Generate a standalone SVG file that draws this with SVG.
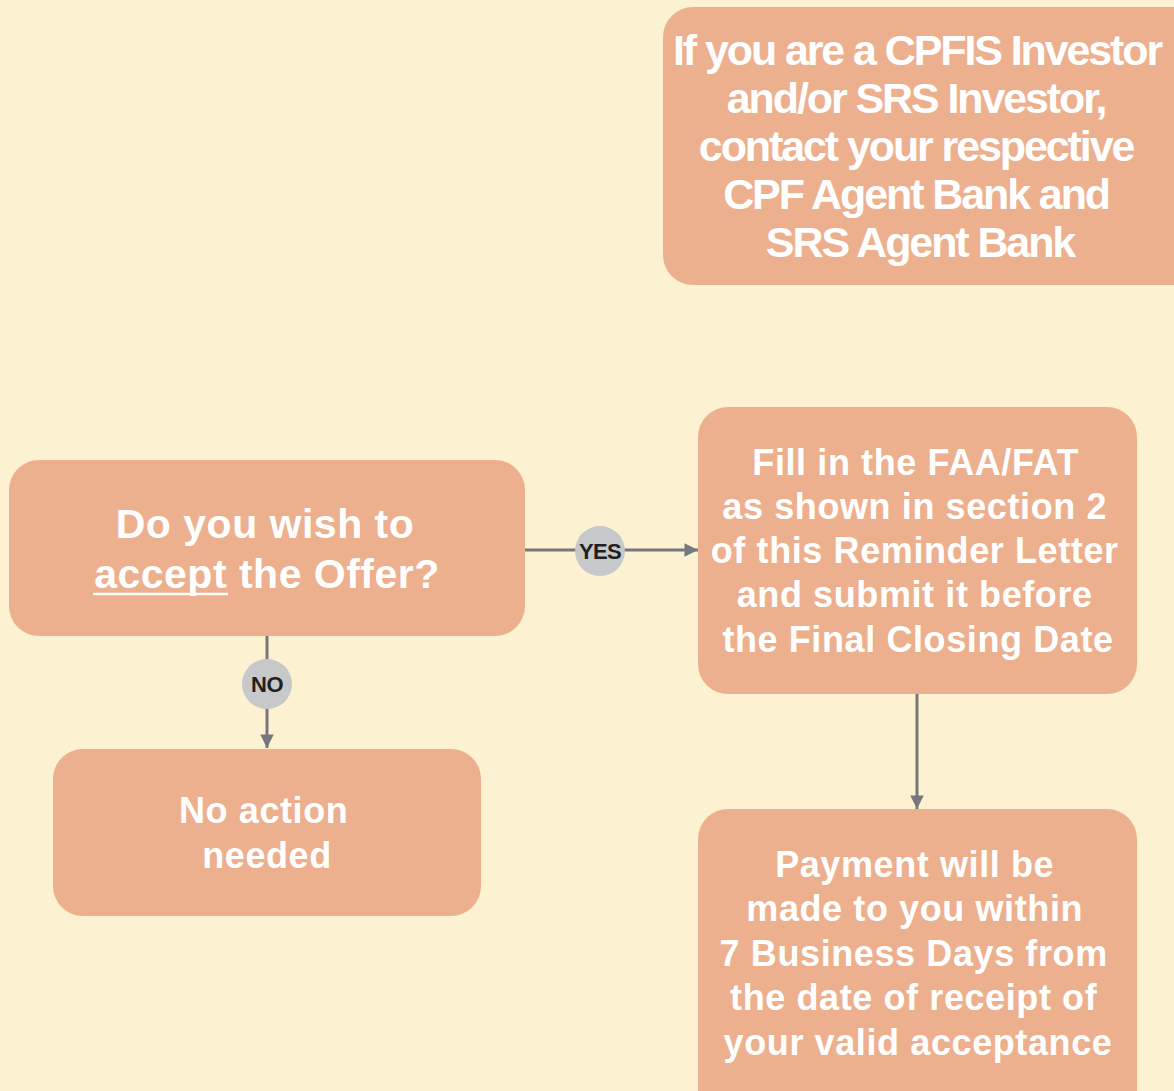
<svg xmlns="http://www.w3.org/2000/svg" width="1174" height="1091" viewBox="0 0 1174 1091">
  <defs>
    <style>
      .box { fill: #EDB08E; }
      .txt { font-family: "Liberation Sans", Arial, sans-serif; font-weight: bold; fill: #FFFFFF; text-anchor: middle; }
      .big { font-size: 41px; letter-spacing: 0.5px; }
      .mid { font-size: 36px; letter-spacing: 0.6px; }
      .cond { font-size: 43px; letter-spacing: -2.1px; }
      .wire { stroke: #77787B; stroke-width: 3; fill: none; }
      .badge { fill: #C7C8CA; }
      .lbl { font-family: "Liberation Sans", Arial, sans-serif; font-weight: bold; font-size: 22px; letter-spacing: -0.6px; fill: #231F20; text-anchor: middle; }
    </style>
    <marker id="arrow" viewBox="0 0 10 10" refX="10" refY="5" markerWidth="6" markerHeight="4.5" markerUnits="strokeWidth" orient="auto">
      <path d="M0,0 L10,5 L0,10 Z" fill="#77787B"/>
    </marker>
  </defs>

  <rect width="1174" height="1091" fill="#FCF1D0"/>

  <!-- connectors -->
  <g id="connectors">
    <line class="wire" x1="525" y1="550" x2="698" y2="550" marker-end="url(#arrow)"/>
    <line class="wire" x1="267" y1="636" x2="267" y2="748" marker-end="url(#arrow)"/>
    <line class="wire" x1="917" y1="694" x2="917" y2="809" marker-end="url(#arrow)"/>
    <circle class="badge" cx="600" cy="551" r="25"/>
    <text class="lbl" x="600" y="559">YES</text>
    <circle class="badge" cx="267" cy="684" r="25"/>
    <text class="lbl" x="267" y="692">NO</text>
  </g>

  <!-- note for CPFIS / SRS investors -->
  <g id="node-cpfis">
    <rect class="box" x="663" y="7" width="540" height="278" rx="30"/>
    <text class="txt cond">
      <tspan x="922" y="65">If you are a CPFIS Investor</tspan>
      <tspan x="921" y="113">and/or SRS Investor,</tspan>
      <tspan x="921" y="161">contact your respective</tspan>
      <tspan x="921" y="209">CPF Agent Bank and</tspan>
      <tspan x="920" y="257">SRS Agent Bank</tspan>
    </text>
  </g>

  <!-- decision -->
  <g id="node-decision">
    <rect class="box" x="9" y="460" width="516" height="176" rx="30"/>
    <text class="txt big">
      <tspan x="271" y="538">Do you wish to</tspan>
      <tspan x="267" y="588">accept the Offer?</tspan>
    </text>
    <line x1="93" y1="594" x2="228" y2="594" stroke="#FFFFFF" stroke-width="2.5"/>
  </g>

  <!-- no branch -->
  <g id="node-no-action">
    <rect class="box" x="53" y="749" width="428" height="167" rx="30"/>
    <text class="txt mid">
      <tspan x="269" y="823">No action</tspan>
      <tspan x="267" y="868">needed</tspan>
    </text>
  </g>

  <!-- yes branch -->
  <g id="node-fill">
    <rect class="box" x="698" y="407" width="439" height="287" rx="30"/>
    <text class="txt mid">
      <tspan x="921" y="475">Fill in the FAA/FAT</tspan>
      <tspan x="920" y="519">as shown in section 2</tspan>
      <tspan x="920" y="563">of this Reminder Letter</tspan>
      <tspan x="920" y="607">and submit it before</tspan>
      <tspan x="918" y="652">the Final Closing Date</tspan>
    </text>
  </g>

  <g id="node-payment">
    <rect class="box" x="698" y="809" width="439" height="310" rx="30"/>
    <text class="txt mid">
      <tspan x="920" y="877">Payment will be</tspan>
      <tspan x="920" y="921">made to you within</tspan>
      <tspan x="919" y="966">7 Business Days from</tspan>
      <tspan x="919" y="1010">the date of receipt of</tspan>
      <tspan x="918" y="1055">your valid acceptance</tspan>
    </text>
  </g>
</svg>
